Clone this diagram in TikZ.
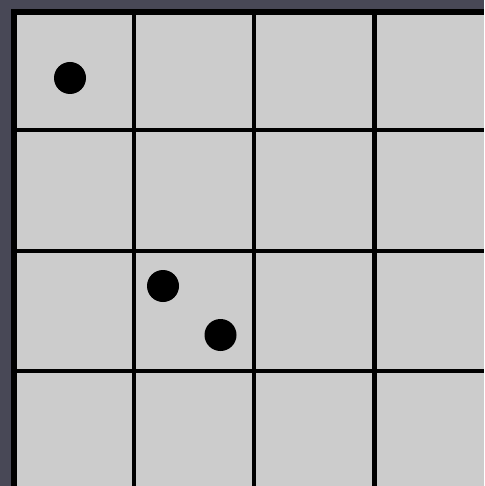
\documentclass[tikz,border=0pt]{standalone}
\usepackage{xcolor}
\usetikzlibrary{positioning}

\definecolor{frame}{RGB}{72,72,86}
\definecolor{cell}{RGB}{204,204,204}

\begin{document}
\begin{tikzpicture}[
  x=1pt, y=-1pt,
  grid/.style={draw=black, line width=4.5pt},
  rim/.style={draw=black, line width=6pt},
  stone/.style={circle, fill=black, minimum size=32pt, inner sep=0pt},
]
  % background and board
  \fill[frame] (0,0) rectangle (484,486);
  \useasboundingbox (0,0) rectangle (484,486);
  \fill[cell] (13.5,12.5) rectangle (484,486);

  % grid lines
  \foreach \gx in {134,254,374.5}
    \draw[grid] (\gx,12.5) -- (\gx,486);
  \foreach \gy in {130,251,371}
    \draw[grid] (13.5,\gy) -- (484,\gy);
  \draw[rim] (13.5,486) -- (13.5,12.5) -- (484,12.5);

  % stones
  \node[stone] (s1) at (70,78) {};
  \node[stone] (s2) at (163,286) {};
  \node[stone] (s3) at (220.5,335) {};
\end{tikzpicture}
\end{document}
